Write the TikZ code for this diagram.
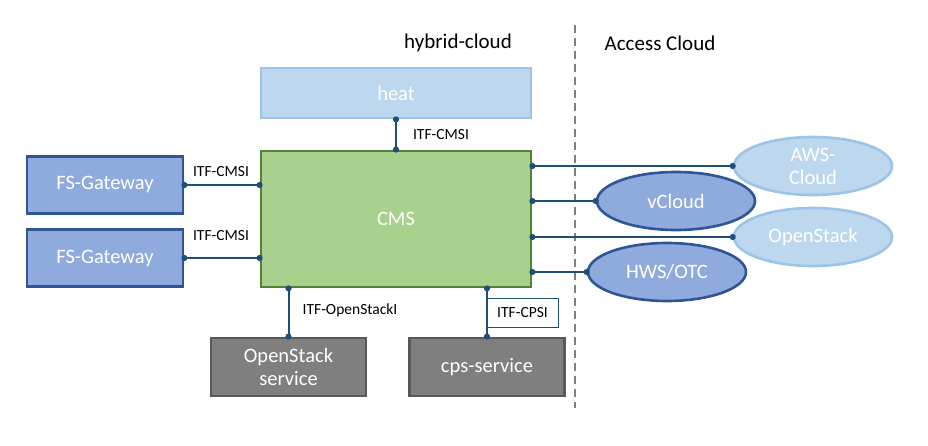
\documentclass[tikz,border=0pt]{standalone}
\usepackage{fontspec}
\setmainfont{Carlito}
\usetikzlibrary{shapes.geometric,arrows.meta}

\definecolor{blueFill}{HTML}{8FAADC}
\definecolor{blueLine}{HTML}{2F5597}
\definecolor{lightFill}{HTML}{BDD7EE}
\definecolor{lightLine}{HTML}{9DC3E6}
\definecolor{greenFill}{HTML}{A9D18E}
\definecolor{greenLine}{HTML}{548235}
\definecolor{grayFill}{HTML}{7F7F7F}
\definecolor{grayLine}{HTML}{595959}
\definecolor{linkBlue}{HTML}{1F4E79}

\tikzset{
	box/.style={draw, line width=2.8pt, inner sep=0pt, text=white,
		font=\fontsize{20.5}{23}\selectfont, align=center},
	gwbox/.style={box, fill=blueFill, draw=blueLine, minimum width=156pt, minimum height=57pt},
	svcbox/.style={box, fill=grayFill, draw=grayLine, minimum width=155pt, minimum height=58pt},
	cloud/.style={ellipse, box, line width=2.6pt, minimum width=158pt, minimum height=58pt},
	link/.style={draw=linkBlue, line width=2pt,
		{Circle[length=6pt]}-{Circle[length=6pt]},
		shorten <=-3pt, shorten >=-3pt},
	itf/.style={font=\fontsize{15.5}{18}\selectfont, inner sep=1pt},
	title/.style={font=\fontsize{21}{24}\selectfont}
}

\begin{document}
\begin{tikzpicture}[x=1pt, y=-1pt]
	\useasboundingbox (0,0) rectangle (928,446);

	% titles and divider
	\node[title] (hybrid) at (458,43) {hybrid-cloud};
	\node[title] (access) at (660,43) {Access Cloud};
	\coordinate (divtop) at (575,25);
	\coordinate (divbot) at (575,408);
	\draw[grayFill, line width=1.6pt, dash pattern=on 8pt off 5pt] (divtop) -- (divbot);

	% boxes
	\node[box, fill=lightFill, draw=lightLine, minimum width=270pt, minimum height=50pt]
		(heat) at (396,93) {heat};
	\node[box, fill=greenFill, draw=greenLine, minimum width=270pt, minimum height=136pt]
		(cms) at (396,219) {CMS};
	\node[gwbox] (gw1) at (105,185) {FS-Gateway};
	\node[gwbox] (gw2) at (105,258) {FS-Gateway};
	\node[svcbox] (oss) at (288.5,367) {OpenStack\\service};
	\node[svcbox] (cps) at (487,367) {cps-service};

	% clouds
	\node[cloud, fill=lightFill, draw=lightLine] (aws) at (813,166) {AWS-\\Cloud};
	\node[cloud, fill=blueFill, draw=blueLine] (vcloud) at (676,201) {vCloud};
	\node[cloud, fill=lightFill, draw=lightLine] (openstack) at (813,237) {OpenStack};
	\node[cloud, fill=blueFill, draw=blueLine] (hws) at (667,272) {HWS/OTC};

	% interfaces
	\draw[link] (gw1.east) -- (cms.west |- gw1.east);
	\draw[link] (gw2.east) -- (cms.west |- gw2.east);
	\draw[link] (heat.south) -- (cms.north);
	\draw[link] (cms.south -| oss.north) -- (oss.north);
	\draw[link] (cms.south -| cps.north) -- (cps.north);
	\draw[link] (cms.east |- aws.west) -- (aws.west);
	\draw[link] (cms.east |- vcloud.west) -- (vcloud.west);
	\draw[link] (cms.east |- openstack.west) -- (openstack.west);
	\draw[link] (cms.east |- hws.west) -- (hws.west);

	\node[itf] (itf1) at (221,172) {ITF-CMSI};
	\node[itf] (itf2) at (221,236) {ITF-CMSI};
	\node[itf] (itf3) at (441,135) {ITF-CMSI};
	\node[itf] (itf4) at (350,310) {ITF-OpenStackI};
	\node[itf, draw=linkBlue, line width=0.8pt, minimum width=71pt, minimum height=29pt]
		(itf5) at (522.5,312.5) {ITF-CPSI};

\end{tikzpicture}
\end{document}
